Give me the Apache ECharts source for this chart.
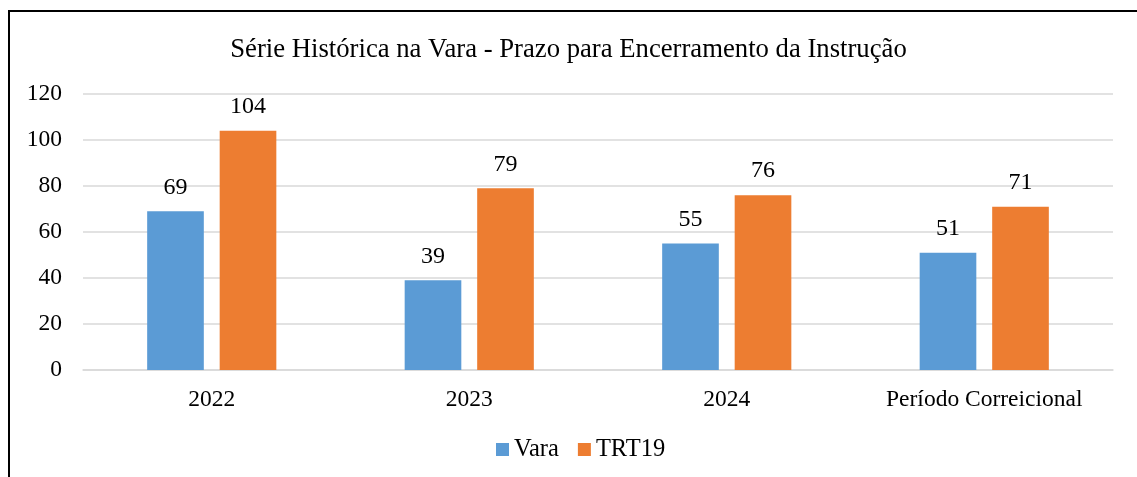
<!DOCTYPE html>
<html><head><meta charset="utf-8">
<script src="https://cdn.jsdelivr.net/npm/echarts@6/dist/echarts.min.js"></script>
<style>html,body{margin:0;padding:0;background:#fff}#c{width:1137px;height:477px}</style>
</head><body><div id="c"></div>
<script>
const categories = ['2022', '2023', '2024', 'Período Correicional'];
const vara = [69, 39, 55, 51];
const trt19 = [104, 79, 76, 71];
const yTicks = [0, 20, 40, 60, 80, 100, 120];
const font = '"Liberation Serif", "Times New Roman", serif';
const chart = echarts.init(document.getElementById('c'));
const lbl = {show: true, position: 'top', distance: 12, color: '#000', fontFamily: font, fontSize: 24};
chart.setOption({
  animation: false,
  title: {text: 'Série Histórica na Vara - Prazo para Encerramento da Instrução', left: 'center', top: 31,
    textStyle: {fontFamily: font, fontSize: 26.7, fontWeight: 'normal', color: '#000'}},
  graphic: [{type: 'rect', shape: {x: 9, y: 11, width: 1400, height: 800}, style: {fill: 'none', stroke: '#000', lineWidth: 2}}],
  legend: {bottom: 10, left: 491, itemWidth: 13, itemHeight: 13, itemGap: 19,
    icon: 'rect', textStyle: {fontFamily: font, fontSize: 24.5, color: '#000'}},
  grid: {left: 83, right: 24, top: 94, bottom: 107},
  xAxis: {type: 'category', data: categories,
    axisLine: {lineStyle: {color: '#d9d9d9', width: 1.5}}, axisTick: {show: false},
    axisLabel: {fontFamily: font, fontSize: 23.5, color: '#000', margin: 18}},
  yAxis: {type: 'value', min: 0, max: 120, interval: 20,
    axisLine: {show: false}, axisTick: {show: false},
    splitLine: {lineStyle: {color: '#d9d9d9', width: 1.5}},
    axisLabel: {fontFamily: font, fontSize: 23.5, color: '#000', margin: 21,
      formatter: v => yTicks.includes(v) ? String(v) : ''}},
  series: [
    {name: 'Vara', type: 'bar', data: vara, barWidth: '22%', barGap: '28%', itemStyle: {color: '#5B9BD5'}, label: lbl},
    {name: 'TRT19', type: 'bar', data: trt19, barWidth: '22%', itemStyle: {color: '#ED7D31'}, label: lbl}
  ]
});
</script></body></html>
